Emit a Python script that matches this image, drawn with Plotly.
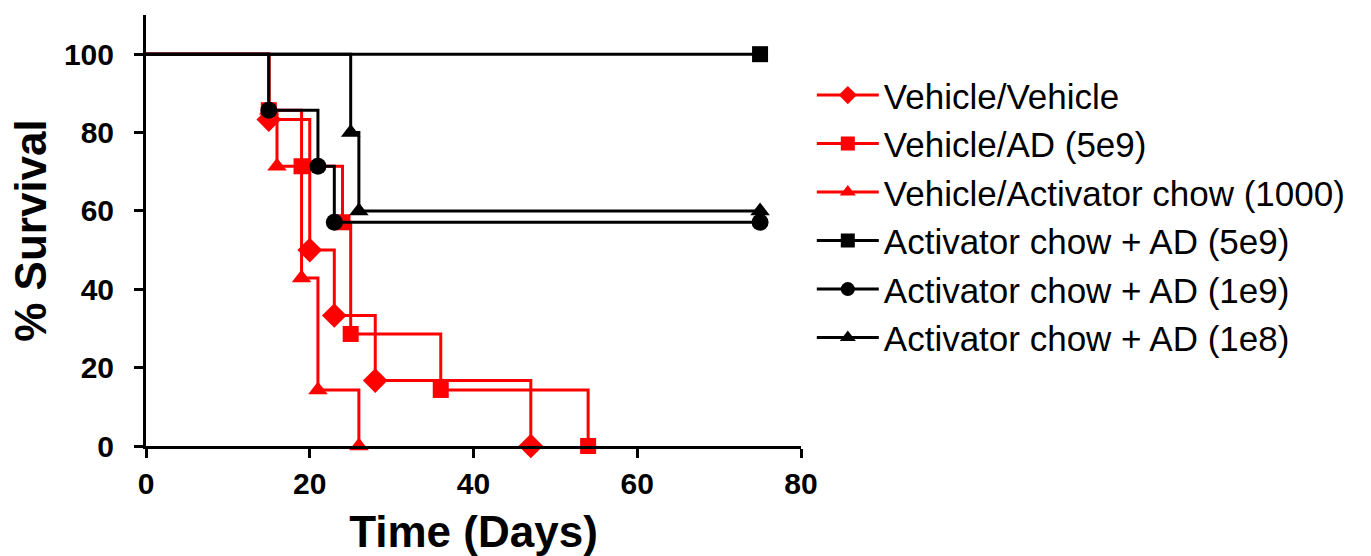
import plotly.graph_objects as go

# Kaplan-Meier step data (time in days, % survival)
vv_days = [0, 15, 20, 23, 28, 47]
vv_surv = [100, 83.3, 50, 33.3, 16.7, 0]

vad_days = [0, 15, 19, 24, 25, 36, 54]
vad_surv = [100, 85.7, 71.4, 57.1, 28.6, 14.3, 0]

vac_days = [0, 15, 16, 19, 21, 26]
vac_surv = [100, 85.7, 71.4, 42.9, 14.3, 0]

ac5_days = [0, 75]
ac5_surv = [100, 100]

ac1e9_days = [0, 15, 21, 23, 75]
ac1e9_surv = [100, 85.7, 71.4, 57.1, 57.1]

ac1e8_days = [0, 25, 26, 75]
ac1e8_surv = [100, 80, 60, 60]

names = [
    "Vehicle/Vehicle",
    "Vehicle/AD (5e9)",
    "Vehicle/Activator chow (1000)",
    "Activator chow + AD (5e9)",
    "Activator chow + AD (1e9)",
    "Activator chow + AD (1e8)",
]

RED = "#ff0000"
BLACK = "#000000"

series = [
    (vv_days, vv_surv, RED, "diamond", 19),
    (vad_days, vad_surv, RED, "square", 16),
    (vac_days, vac_surv, RED, "triangle-up", 17),
    (ac5_days, ac5_surv, BLACK, "square", 16),
    (ac1e9_days, ac1e9_surv, BLACK, "circle", 17),
    (ac1e8_days, ac1e8_surv, BLACK, "triangle-up", 17),
]

FONT = "Liberation Sans, Arial, sans-serif"

fig = go.Figure()

for (xs, ys, col, sym, sz) in series:
    fig.add_trace(go.Scatter(
        x=xs, y=ys, mode="lines", line=dict(color=col, width=3, shape="hv"),
        showlegend=False, hoverinfo="skip", cliponaxis=False))
    fig.add_trace(go.Scatter(
        x=xs[1:], y=ys[1:], mode="markers",
        marker=dict(color=col, symbol=sym, size=sz, line=dict(width=0)),
        showlegend=False, cliponaxis=False))

for name, (xs, ys, col, sym, sz) in zip(names, series):
    fig.add_trace(go.Scatter(
        x=[None], y=[None], mode="lines+markers", name=name,
        line=dict(color=col, width=3),
        marker=dict(color=col, symbol=sym, size=14)))

fig.update_layout(
    width=1371, height=556,
    margin=dict(l=146, r=570, t=15, b=110),
    paper_bgcolor="white", plot_bgcolor="white",
    font=dict(family=FONT, color="black"),
    legend=dict(
        x=1.0165, y=0.882, xanchor="left", yanchor="top",
        font=dict(size=35, family=FONT, color="black"),
        itemwidth=62, tracegroupgap=0, bgcolor="rgba(0,0,0,0)",
    ),
    xaxis=dict(
        range=[0, 80], tickvals=[0, 20, 40, 60, 80],
        showline=True, linecolor="black", linewidth=3,
        ticks="outside", ticklen=9, tickwidth=3, tickcolor="black",
        showgrid=False, zeroline=False, automargin=False,
        tickfont=dict(size=30, family=FONT, weight="bold"),
        title=dict(text="<b>Time (Days)</b>", font=dict(size=44), standoff=23),
    ),
    yaxis=dict(
        range=[0, 110], tickvals=[0, 20, 40, 60, 80, 100],
        showline=True, linecolor="black", linewidth=3,
        ticks="outside", ticklen=9, tickwidth=3, tickcolor="black",
        showgrid=False, zeroline=False, automargin=False,
        ticklabelstandoff=14,
        tickfont=dict(size=30, family=FONT, weight="bold"),
        title=dict(text="<b>% Survival</b>", font=dict(size=44), standoff=4),
    ),
)

fig.write_html("out.html", config={"displayModeBar": False},
               post_script="document.body.style.margin='0';")
